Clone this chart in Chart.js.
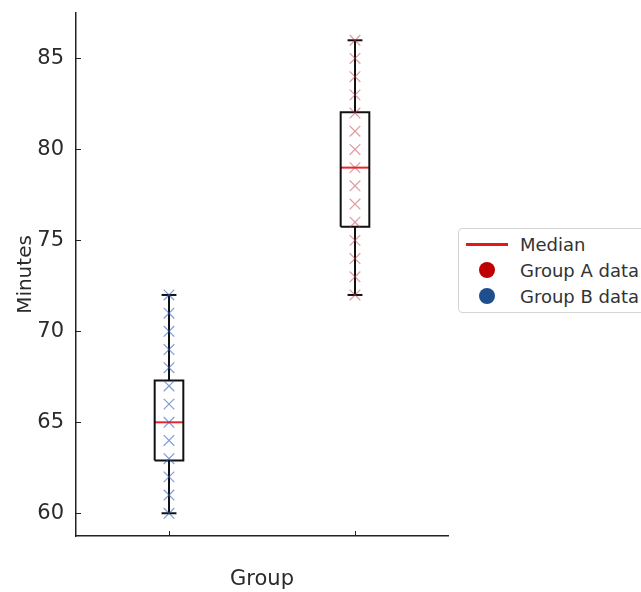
<!DOCTYPE html>
<html>
<head>
<meta charset="utf-8">
<script src="https://cdn.jsdelivr.net/npm/chart.js@4.4.0/dist/chart.umd.min.js"></script>
<style>
  html, body { margin: 0; padding: 0; background: #fff; overflow: hidden; }
  #wrap { position: relative; width: 641px; height: 592px; }
  #legend {
    position: absolute; left: 458px; top: 228px; width: 220px;
    border: 1px solid #d4d4d4; border-radius: 4px; background: #fff;
    font: 18px "DejaVu Sans", sans-serif; color: #333; padding: 2px 0 3px 0;
  }
  .row { height: 26px; display: flex; align-items: center; white-space: nowrap; }
  .sym { width: 48px; margin-left: 4px; margin-right: 9px; display: flex; justify-content: center; align-items: center; }
  .line { width: 42px; height: 3px; background: #e01a1a; }
  .dot { width: 16px; height: 16px; border-radius: 50%; }
</style>
</head>
<body>
<div id="wrap">
  <canvas id="c" width="641" height="592"></canvas>
  <div id="legend">
    <div class="row"><span class="sym"><span class="line"></span></span>Median</div>
    <div class="row"><span class="sym"><span class="dot" style="background:#c00000"></span></span>Group A data</div>
    <div class="row"><span class="sym"><span class="dot" style="background:#1f4e8c"></span></span>Group B data</div>
  </div>
</div>
<script>
// box stats per group
const groupPos = [1, 2];
const q1 = [62.9, 75.75];
const medians = [65, 79];
const q3 = [67.3, 82.05];
const whiskLo = [60, 72];
const whiskHi = [72, 86];

// raw points drawn as x markers
const groupAValues = [60, 61, 62, 63, 64, 65, 66, 67, 68, 69, 70, 71, 72];
const groupBValues = [72, 73, 74, 75, 76, 77, 78, 79, 80, 81, 82, 83, 84, 85, 86];
const pointColors = ['rgba(45,90,180,0.6)', 'rgba(190,55,70,0.5)'];

const yTicks = [60, 65, 70, 75, 80, 85];

const BOX_HALF = 0.077;
const CAP_HALF = 0.04;

function seg(x0, y0, x1, y1) {
  return [{ x: x0, y: y0 }, { x: x1, y: y1 }];
}
function lineSet(data, color, width) {
  return { data, showLine: true, borderColor: color, borderWidth: width, pointRadius: 0, fill: false, order: 2 };
}

const datasets = [];
groupPos.forEach((x, i) => {
  datasets.push(lineSet([
    { x: x - BOX_HALF, y: q1[i] }, { x: x + BOX_HALF, y: q1[i] },
    { x: x + BOX_HALF, y: q3[i] }, { x: x - BOX_HALF, y: q3[i] },
    { x: x - BOX_HALF, y: q1[i] }
  ], '#111', 2));
  datasets.push(lineSet(seg(x, q1[i], x, whiskLo[i]), '#111', 2));
  datasets.push(lineSet(seg(x, q3[i], x, whiskHi[i]), '#111', 2));
  datasets.push(lineSet(seg(x - CAP_HALF, whiskLo[i], x + CAP_HALF, whiskLo[i]), '#111', 2));
  datasets.push(lineSet(seg(x - CAP_HALF, whiskHi[i], x + CAP_HALF, whiskHi[i]), '#111', 2));
  datasets.push(lineSet(seg(x - BOX_HALF, medians[i], x + BOX_HALF, medians[i]), '#e8262a', 2));
});
[groupAValues, groupBValues].forEach((vals, i) => {
  datasets.push({
    data: vals.map(v => ({ x: groupPos[i], y: v })),
    pointStyle: 'crossRot', pointRadius: 7.5, borderWidth: 1.2,
    borderColor: pointColors[i], backgroundColor: pointColors[i], order: 1
  });
});

// matplotlib-like inward tick marks
const inwardTicks = {
  id: 'inwardTicks',
  afterDraw(chart) {
    const { ctx, scales: { x, y } } = chart;
    ctx.save();
    ctx.strokeStyle = '#222';
    ctx.lineWidth = 1;
    x.ticks.forEach(t => {
      const px = Math.round(x.getPixelForValue(t.value)) + 0.5;
      ctx.beginPath(); ctx.moveTo(px, x.top); ctx.lineTo(px, x.top - 5); ctx.stroke();
    });
    y.ticks.forEach(t => {
      const py = Math.round(y.getPixelForValue(t.value)) + 0.5;
      ctx.beginPath(); ctx.moveTo(y.right, py); ctx.lineTo(y.right + 5, py); ctx.stroke();
    });
    ctx.restore();
  }
};

new Chart(document.getElementById('c'), {
  type: 'scatter',
  data: { datasets },
  options: {
    responsive: false,
    animation: false,
    layout: { padding: { top: 13, right: 193, left: 0, bottom: 0 } },
    plugins: { legend: { display: false }, tooltip: { enabled: false } },
    scales: {
      x: {
        type: 'linear', min: 0.5, max: 2.5,
        afterBuildTicks: s => { s.ticks = groupPos.map(v => ({ value: v })); },
        afterFit: s => { s.height = 56; s.paddingLeft = 0; s.paddingRight = 0; },
        grid: { display: false },
        border: { color: '#222', width: 1.5 },
        ticks: { display: false },
        title: { display: true, text: 'Group', color: '#2b2b2b', font: { family: 'DejaVu Sans', size: 21 }, padding: { bottom: 0 } }
      },
      y: {
        type: 'linear', min: 58.75, max: 87.5,
        afterBuildTicks: s => { s.ticks = yTicks.map(v => ({ value: v })); },
        afterFit: s => { s.width = 76; s.paddingTop = 0; s.paddingBottom = 0; },
        grid: { display: false },
        border: { color: '#222', width: 1.5 },
        ticks: { color: '#2b2b2b', padding: 4, font: { family: 'DejaVu Sans', size: 21 } },
        title: { display: true, text: 'Minutes', color: '#2b2b2b', font: { family: 'DejaVu Sans', size: 20 }, padding: { top: 14 } }
      }
    }
  },
  plugins: [inwardTicks]
});
</script>
</body>
</html>
